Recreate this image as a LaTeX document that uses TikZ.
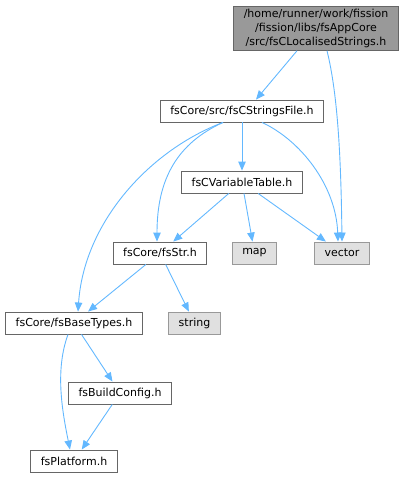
\documentclass[tikz,border=0pt]{standalone}
\usepackage{fontspec}
\setmainfont{DejaVu Sans}
\usetikzlibrary{arrows.meta}

\definecolor{edgeblue}{HTML}{63B8FF}
\definecolor{boxgray}{HTML}{999999}
\definecolor{boxborder}{HTML}{666666}
\definecolor{sysgray}{HTML}{E0E0E0}

\tikzset{
    file/.style={draw=boxborder, line width=0.9pt, fill=white, inner xsep=10pt,
                 minimum height=22pt, font=\fontsize{11}{14}\selectfont},
    rootfile/.style={file, fill=boxgray, align=center, inner ysep=2.5pt},
    sysfile/.style={file, draw=boxgray, fill=sysgray},
    edge/.style={draw=edgeblue, line width=0.9pt,
                 -{Triangle[length=9pt,width=7.5pt]}}
}

\begin{document}
\begin{tikzpicture}[x=1pt, y=-1pt]
    % Canvas
    \useasboundingbox (0,0) rectangle (406,481);

    % Files
    \node[rootfile] (localised) at (316,28.5)
        {/home/runner/work/fission\\/fission/libs/fsAppCore\\/src/fsCLocalisedStrings.h};
    \node[file] (cstrings) at (242,111) {fsCore/src/fsCStringsFile.h};
    \node[file] (vartable) at (242,182) {fsCVariableTable.h};
    \node[file] (str) at (160,253) {fsCore/fsStr.h};
    \node[sysfile] (map) at (254.5,253) {map};
    \node[sysfile] (vector) at (342,253) {vector};
    \node[file] (basetypes) at (74,323) {fsCore/fsBaseTypes.h};
    \node[sysfile] (string) at (194.5,323) {string};
    \node[file] (buildconfig) at (120,393) {fsBuildConfig.h};
    \node[file] (platform) at (74,461) {fsPlatform.h};

    % Straight includes
    \foreach \from/\to in {vartable/str, vartable/map, vartable/vector,
                           str/basetypes, str/string,
                           basetypes/buildconfig, buildconfig/platform} {
        \draw[edge] (\from) -- (\to);
    }

    % Bent includes
    \draw[edge] ([xshift=-19pt]localised.south) -- ([xshift=14pt]cstrings.north);
    \draw[edge] ([xshift=11pt]localised.south) .. controls (338,95) and (341,160) .. (vector.north);
    \draw[edge] (cstrings) -- (vartable);
    \draw[edge] ([xshift=-19pt]cstrings.south) .. controls (178,143) and (157,178) .. ([xshift=-3pt]str.north);
    \draw[edge] ([xshift=-19pt]cstrings.south) .. controls (150,150) and (84,222) .. ([xshift=4pt]basetypes.north);
    \draw[edge] ([xshift=20pt]cstrings.south) .. controls (300,140) and (336,185) .. ([xshift=-4pt]vector.north);
    \draw[edge] ([xshift=-6pt]basetypes.south) .. controls (55,370) and (62,410) .. ([xshift=-4pt]platform.north);
\end{tikzpicture}
\end{document}
